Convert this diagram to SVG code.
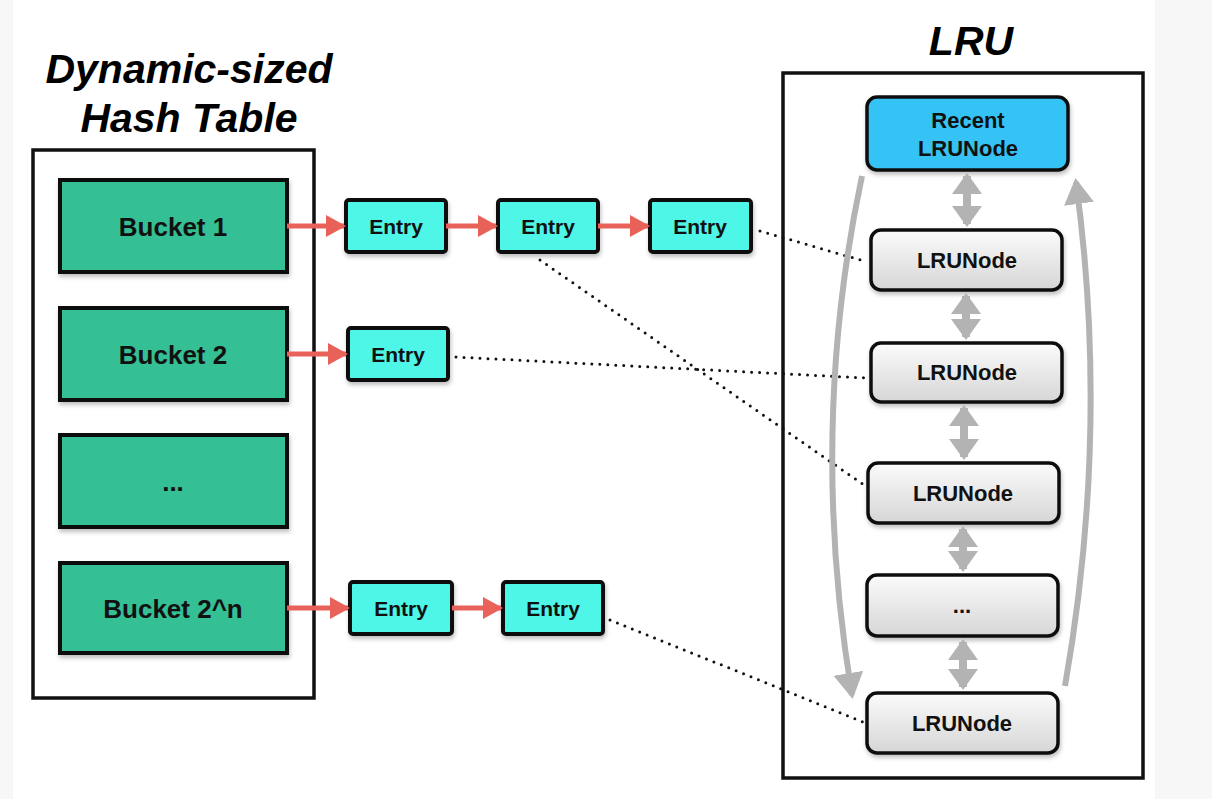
<svg xmlns="http://www.w3.org/2000/svg" width="1212" height="799" viewBox="0 0 1212 799">
<defs>
  <linearGradient id="nodeGrad" x1="0" y1="0" x2="0" y2="1">
    <stop offset="0" stop-color="#fbfbfb"/>
    <stop offset="1" stop-color="#d6d6d6"/>
  </linearGradient>
  <filter id="shadow" x="-10%" y="-10%" width="130%" height="140%">
    <feDropShadow dx="1" dy="3" stdDeviation="2" flood-color="#000" flood-opacity="0.25"/>
  </filter>
  <marker id="redHead" markerUnits="userSpaceOnUse" markerWidth="20" markerHeight="22" refX="18" refY="11" orient="auto">
    <path d="M0,0 L20,11 L0,22 Z" fill="#e9625a"/>
  </marker>
  <marker id="grayHead" markerUnits="userSpaceOnUse" markerWidth="22" markerHeight="30" refX="18" refY="15" orient="auto-start-reverse">
    <path d="M0,0 L21,15 L0,30 Z" fill="#b3b3b3"/>
  </marker>
  <marker id="grayHeadBig" markerUnits="userSpaceOnUse" markerWidth="26" markerHeight="30" refX="22" refY="15" orient="auto">
    <path d="M0,0 L26,15 L0,30 Z" fill="#b3b3b3"/>
  </marker>
</defs>
<style>
  .title { font-family: "Liberation Sans", Arial, sans-serif; font-weight: bold; font-style: italic; font-size: 41px; fill: #000; text-anchor: middle; }
  .frame { fill: #fff; stroke: #111; stroke-width: 3.5; }
  .bucket { fill: #36bf95; stroke: #111; stroke-width: 4; filter: url(#shadow); }
  .entry { fill: #4ef6e6; stroke: #111; stroke-width: 4; filter: url(#shadow); }
  .recent { fill: #35c3f5; stroke: #111; stroke-width: 3.5; filter: url(#shadow); }
  .lru { fill: url(#nodeGrad); stroke: #111; stroke-width: 3.5; filter: url(#shadow); }
  .lbl { font-family: "Liberation Sans", Arial, sans-serif; font-weight: bold; fill: #111; text-anchor: middle; }
  .bl { font-size: 26px; }
  .el { font-size: 21px; }
  .nl { font-size: 22px; }
  .red { stroke: #e9625a; stroke-width: 5; fill: none; marker-end: url(#redHead); }
  .dot { stroke: #111; stroke-width: 3; stroke-linecap: round; stroke-dasharray: 0 8; fill: none; }
  .gdbl { stroke: #b3b3b3; stroke-width: 8; fill: none; marker-start: url(#grayHead); marker-end: url(#grayHead); }
  .gcurve { stroke: #b3b3b3; stroke-width: 6; fill: none; marker-end: url(#grayHeadBig); }
</style>
<rect x="0" y="0" width="1212" height="799" fill="#fff"/>
<rect x="0" y="0" width="13" height="799" fill="#f7f7f7"/>
<rect x="1155" y="0" width="57" height="799" fill="#f7f7f7"/>

<g id="hashTable">
  <rect class="frame" x="33" y="150" width="281" height="548"/>
  <text class="title" x="189" y="83">Dynamic-sized</text>
  <text class="title" x="189" y="132">Hash Table</text>
</g>
<g id="lruFrame">
  <rect class="frame" x="783" y="73" width="360" height="705"/>
  <text class="title" x="971" y="55">LRU</text>
</g>

<g id="bucket1"><rect class="bucket" x="60" y="180" width="227" height="92"/><text class="lbl bl" x="173" y="236">Bucket 1</text></g>
<g id="bucket2"><rect class="bucket" x="60" y="308" width="227" height="92"/><text class="lbl bl" x="173" y="364">Bucket 2</text></g>
<g id="bucketDots"><rect class="bucket" x="60" y="435" width="227" height="92"/><text class="lbl bl" x="173" y="491">...</text></g>
<g id="bucketN"><rect class="bucket" x="60" y="563" width="227" height="90"/><text class="lbl bl" x="173" y="618">Bucket 2^n</text></g>

<g id="entry11"><rect class="entry" x="346" y="200" width="100" height="52" rx="3"/><text class="lbl el" x="396" y="234">Entry</text></g>
<g id="entry12"><rect class="entry" x="498" y="200" width="100" height="52" rx="3"/><text class="lbl el" x="548" y="234">Entry</text></g>
<g id="entry13"><rect class="entry" x="650" y="200" width="101" height="52" rx="3"/><text class="lbl el" x="700" y="234">Entry</text></g>
<g id="entry21"><rect class="entry" x="348" y="328" width="100" height="52" rx="3"/><text class="lbl el" x="398" y="362">Entry</text></g>
<g id="entryN1"><rect class="entry" x="350" y="582" width="102" height="52" rx="3"/><text class="lbl el" x="401" y="616">Entry</text></g>
<g id="entryN2"><rect class="entry" x="503" y="582" width="100" height="52" rx="3"/><text class="lbl el" x="553" y="616">Entry</text></g>

<g id="recentNode"><rect class="recent" x="867" y="97" width="201" height="73" rx="10"/><text class="lbl nl" x="968" y="128">Recent</text><text class="lbl nl" x="968" y="156">LRUNode</text></g>
<g id="lruNode1"><rect class="lru" x="871" y="230" width="191" height="60" rx="10"/><text class="lbl nl" x="967" y="268">LRUNode</text></g>
<g id="lruNode2"><rect class="lru" x="871" y="343" width="191" height="59" rx="10"/><text class="lbl nl" x="967" y="380">LRUNode</text></g>
<g id="lruNode3"><rect class="lru" x="868" y="463" width="191" height="60" rx="10"/><text class="lbl nl" x="963" y="501">LRUNode</text></g>
<g id="lruNodeDots"><rect class="lru" x="867" y="575" width="191" height="61" rx="10"/><text class="lbl nl" x="962" y="613">...</text></g>
<g id="lruNodeLast"><rect class="lru" x="867" y="693" width="191" height="60" rx="10"/><text class="lbl nl" x="962" y="731">LRUNode</text></g>

<g id="connectors">
  <line class="red" x1="287" y1="226" x2="344" y2="226"/>
  <line class="red" x1="446" y1="226" x2="496" y2="226"/>
  <line class="red" x1="598" y1="226" x2="648" y2="226"/>
  <line class="red" x1="287" y1="354" x2="346" y2="354"/>
  <line class="red" x1="287" y1="608" x2="348" y2="608"/>
  <line class="red" x1="452" y1="608" x2="501" y2="608"/>

  <line class="dot" x1="760" y1="231" x2="864" y2="261"/>
  <line class="dot" x1="540" y1="260" x2="864" y2="485"/>
  <line class="dot" x1="456" y1="357" x2="866" y2="378"/>
  <line class="dot" x1="610" y1="620" x2="863" y2="722"/>

  <line class="gdbl" x1="967" y1="176" x2="967" y2="224"/>
  <line class="gdbl" x1="966" y1="296" x2="966" y2="337"/>
  <line class="gdbl" x1="964" y1="408" x2="964" y2="457"/>
  <line class="gdbl" x1="963" y1="529" x2="963" y2="569"/>
  <line class="gdbl" x1="963" y1="642" x2="963" y2="687"/>

  <path class="gcurve" d="M862 176 Q808 430 852 695"/>
  <path class="gcurve" d="M1065 686 Q1110 430 1076 182"/>
</g>
</svg>
